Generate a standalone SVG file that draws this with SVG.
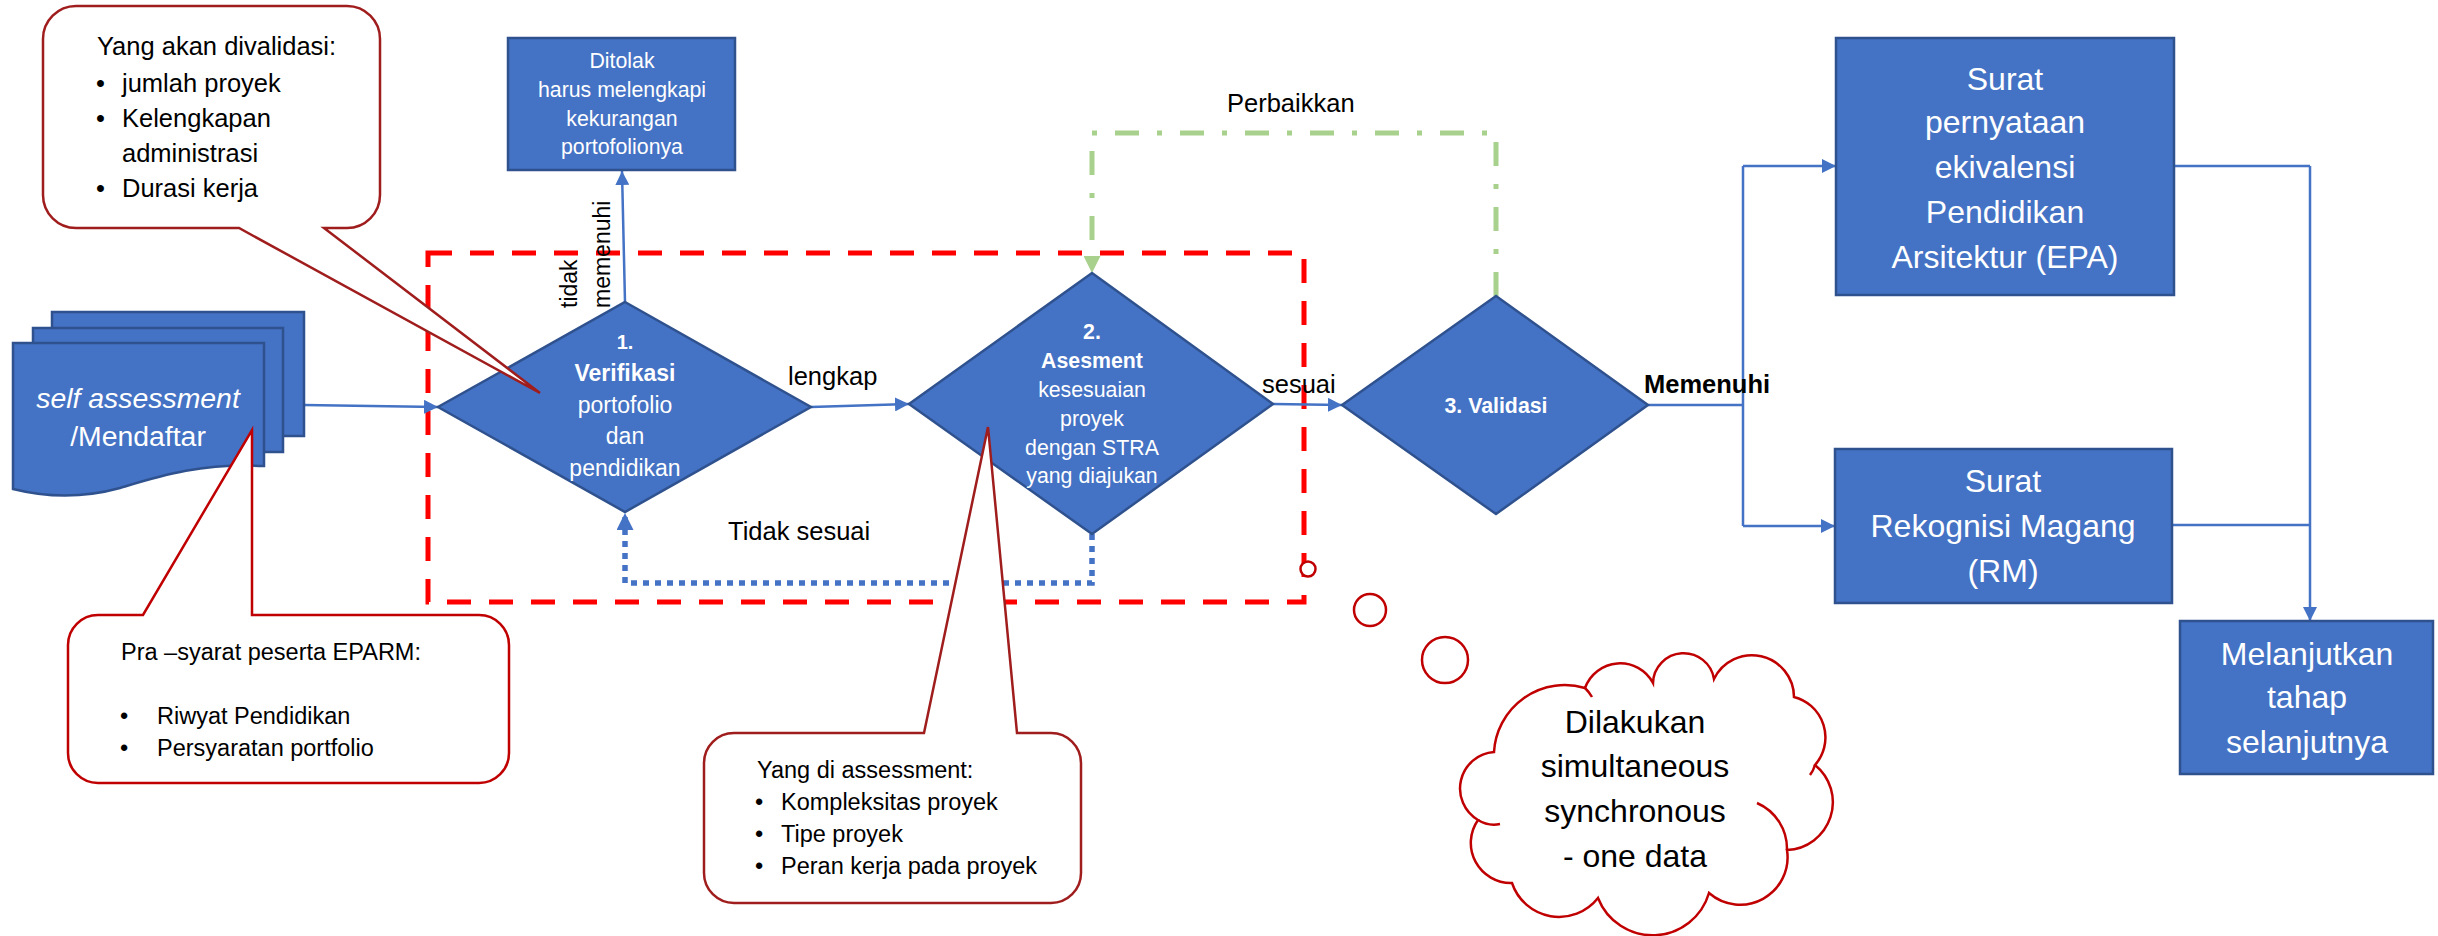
<svg xmlns="http://www.w3.org/2000/svg" width="2438" height="936" viewBox="0 0 2438 936">
<style>
text{font-family:"Liberation Sans",Arial,sans-serif}
.w{fill:#fff}
.k{fill:#000}
.b{font-weight:bold}
.box{fill:#4472C4;stroke:#2F528F;stroke-width:2.5}
.conn{fill:none;stroke:#4472C4;stroke-width:2.5}
.dot{fill:none;stroke:#4472C4;stroke-width:5.5;stroke-dasharray:6 6}
.grn{fill:none;stroke:#A9D18E;stroke-width:5;stroke-dasharray:24 18 5 18}
.redbox{fill:none;stroke:#FF0000;stroke-width:5;stroke-dasharray:24 18}
.call{fill:#fff;stroke:#A01D1D;stroke-width:2.5}
.call2{fill:#fff;stroke:#C00000;stroke-width:2.5}
.cloud{fill:#fff;stroke:#C00000;stroke-width:2.5}
.s20{font-size:20px}.s21{font-size:21.3px}.s23{font-size:23px}.s235{font-size:23.5px}.s25{font-size:25.5px}.s28{font-size:28.4px}.s32{font-size:32px}
</style>
<defs>
<marker id="arrB" viewBox="0 0 10 10" refX="10" refY="5" markerWidth="14" markerHeight="14" markerUnits="userSpaceOnUse" orient="auto"><path d="M0,0 L10,5 L0,10 Z" fill="#4472C4"/></marker>
<marker id="arrD" viewBox="0 0 10 10" refX="10" refY="5" markerWidth="17" markerHeight="17" markerUnits="userSpaceOnUse" orient="auto"><path d="M0,0 L10,5 L0,10 Z" fill="#4472C4"/></marker>
<marker id="arrG" viewBox="0 0 10 10" refX="10" refY="5" markerWidth="17" markerHeight="17" markerUnits="userSpaceOnUse" orient="auto"><path d="M0,0 L10,5 L0,10 Z" fill="#A9D18E"/></marker>
</defs>

<g id="group-box">
<rect class="redbox" x="428" y="253" width="876" height="349"/>
</g>

<g id="connectors">
<path class="conn" d="M304,405 L438,407" marker-end="url(#arrB)"/>
<path class="conn" d="M625,302 L622,171" marker-end="url(#arrB)"/>
<path class="conn" d="M811,407 L909,404" marker-end="url(#arrB)"/>
<path class="conn" d="M1273,404 L1342,405" marker-end="url(#arrB)"/>
<path class="dot" d="M1092,534 V583 H625 V513" marker-end="url(#arrD)"/>
<path class="grn" d="M1496,296 V133 H1092 V273" marker-end="url(#arrG)"/>
<path class="conn" d="M1648,405 H1743 M1743,166 V526"/>
<path class="conn" d="M1743,166 H1836" marker-end="url(#arrB)"/>
<path class="conn" d="M1743,526 H1835" marker-end="url(#arrB)"/>
<path class="conn" d="M2174,166 H2310 M2172,525 H2310"/>
<path class="conn" d="M2310,166 V621" marker-end="url(#arrB)"/>
</g>

<g id="labels">
<text class="k s25" x="788" y="385">lengkap</text>
<text class="k s25" x="1262" y="393">sesuai</text>
<text class="k s25" x="728" y="540">Tidak sesuai</text>
<text class="k s25" x="1227" y="112">Perbaikkan</text>
<text class="k s25 b" x="1644" y="393">Memenuhi</text>
<text class="k s23" transform="translate(577,308) rotate(-90)">tidak</text>
<text class="k s23" transform="translate(610,308) rotate(-90)">memenuhi</text>
</g>

<g id="node-self-assessment">
<rect class="box" x="52" y="312" width="252" height="124"/>
<rect class="box" x="33" y="328" width="250" height="124"/>
<path class="box" d="M13,343 H264 V466 C200,463 160,476 120,488 C80,499 45,497 13,489 Z"/>
<text class="w s28" x="138" y="408" text-anchor="middle" font-style="italic">self assessment</text>
<text class="w s28" x="138" y="446" text-anchor="middle">/Mendaftar</text>
</g>

<g id="node-ditolak">
<rect class="box" x="508" y="38" width="227" height="132"/>
<text class="w s21" text-anchor="middle"><tspan x="622" y="68">Ditolak</tspan><tspan x="622" y="97">harus melengkapi</tspan><tspan x="622" y="126">kekurangan</tspan><tspan x="622" y="154">portofolionya</tspan></text>
</g>

<g id="node-verifikasi">
<path class="box" d="M625,302 L811,407 L625,512 L438,407 Z"/>
<text class="w s20 b" x="625" y="349" text-anchor="middle">1.</text>
<text class="w s23" text-anchor="middle"><tspan class="b" x="625" y="381">Verifikasi</tspan><tspan x="625" y="413">portofolio</tspan><tspan x="625" y="444">dan</tspan><tspan x="625" y="476">pendidikan</tspan></text>
</g>

<g id="node-asesment">
<path class="box" d="M1092,273 L1273,404 L1092,534 L909,404 Z"/>
<text class="w s21" text-anchor="middle"><tspan class="b" x="1092" y="339">2.</tspan><tspan class="b" x="1092" y="368">Asesment</tspan><tspan x="1092" y="397">kesesuaian</tspan><tspan x="1092" y="426">proyek</tspan><tspan x="1092" y="455">dengan STRA</tspan><tspan x="1092" y="483">yang diajukan</tspan></text>
</g>

<g id="node-validasi">
<path class="box" d="M1496,296 L1648,405 L1496,514 L1342,405 Z"/>
<text class="w s21 b" x="1496" y="413" text-anchor="middle">3. Validasi</text>
</g>

<g id="node-epa">
<rect class="box" x="1836" y="38" width="338" height="257"/>
<text class="w s32" text-anchor="middle"><tspan x="2005" y="90">Surat</tspan><tspan x="2005" y="133">pernyataan</tspan><tspan x="2005" y="178">ekivalensi</tspan><tspan x="2005" y="223">Pendidikan</tspan><tspan x="2005" y="268">Arsitektur (EPA)</tspan></text>
</g>

<g id="node-rm">
<rect class="box" x="1835" y="449" width="337" height="154"/>
<text class="w s32" text-anchor="middle"><tspan x="2003" y="492">Surat</tspan><tspan x="2003" y="537">Rekognisi Magang</tspan><tspan x="2003" y="582">(RM)</tspan></text>
</g>

<g id="node-melanjutkan">
<rect class="box" x="2180" y="621" width="253" height="153"/>
<text class="w s32" text-anchor="middle"><tspan x="2307" y="665">Melanjutkan</tspan><tspan x="2307" y="708">tahap</tspan><tspan x="2307" y="753">selanjutnya</tspan></text>
</g>

<g id="callout-validasi">
<path class="call" d="M76,6 H347 A33,33 0 0 1 380,39 V195 A33,33 0 0 1 347,228 H324 L540,393 L239,228 H76 A33,33 0 0 1 43,195 V39 A33,33 0 0 1 76,6 Z"/>
<text class="k s25" x="97" y="55">Yang akan divalidasi:</text>
<text class="k s25"><tspan x="96" y="92">•</tspan><tspan x="96" y="127">•</tspan><tspan x="96" y="197">•</tspan></text>
<text class="k s25"><tspan x="122" y="92">jumlah proyek</tspan><tspan x="122" y="127">Kelengkapan</tspan><tspan x="122" y="162">administrasi</tspan><tspan x="122" y="197">Durasi kerja</tspan></text>
</g>

<g id="callout-prasyarat">
<path class="call2" d="M98,615 H143 L252,430 L252,615 H479 A30,30 0 0 1 509,645 V753 A30,30 0 0 1 479,783 H98 A30,30 0 0 1 68,753 V645 A30,30 0 0 1 98,615 Z"/>
<text class="k s235" x="121" y="660">Pra –syarat peserta EPARM:</text>
<text class="k s235"><tspan x="120" y="724">•</tspan><tspan x="120" y="756">•</tspan></text>
<text class="k s235"><tspan x="157" y="724">Riwyat Pendidikan</tspan><tspan x="157" y="756">Persyaratan portfolio</tspan></text>
</g>

<g id="callout-assessment">
<path class="call" d="M734,733 H924 L988,427 L1017,733 H1051 A30,30 0 0 1 1081,763 V873 A30,30 0 0 1 1051,903 H734 A30,30 0 0 1 704,873 V763 A30,30 0 0 1 734,733 Z"/>
<text class="k s235" x="757" y="778">Yang di assessment:</text>
<text class="k s235"><tspan x="755" y="810">•</tspan><tspan x="755" y="842">•</tspan><tspan x="755" y="874">•</tspan></text>
<text class="k s235"><tspan x="781" y="810">Kompleksitas proyek</tspan><tspan x="781" y="842">Tipe proyek</tspan><tspan x="781" y="874">Peran kerja pada proyek</tspan></text>
</g>

<g id="cloud-simultaneous">
<circle class="cloud" cx="1308" cy="569" r="7.5"/>
<circle class="cloud" cx="1370" cy="610" r="16"/>
<circle class="cloud" cx="1445" cy="660" r="23"/>
<path class="cloud" d="M1494,752 A70.9,70.9 0 0 1 1585,688 A37.3,37.3 0 0 1 1653,683 A30.7,30.7 0 0 1 1714,679 A42.1,42.1 0 0 1 1794,697 A41.7,41.7 0 0 1 1815,765 A47.8,47.8 0 0 1 1787,850 A47.4,47.4 0 0 1 1709,893 A58.7,58.7 0 0 1 1598,898 A49.6,49.6 0 0 1 1512,883 A40.1,40.1 0 0 1 1478,820 A36.6,36.6 0 0 1 1494,752 Z"/>
<path fill="none" stroke="#C00000" stroke-width="2.5" d="M1757,803 A50,50 0 0 1 1787,850 M1478,820 A30,30 0 0 0 1500,824 M1585,688 A40,40 0 0 1 1592,697 M1815,765 A30,30 0 0 1 1810,775"/>
<text class="k s32" text-anchor="middle"><tspan x="1635" y="733">Dilakukan</tspan><tspan x="1635" y="777">simultaneous</tspan><tspan x="1635" y="822">synchronous</tspan><tspan x="1635" y="867">- one data</tspan></text>
</g>
</svg>
